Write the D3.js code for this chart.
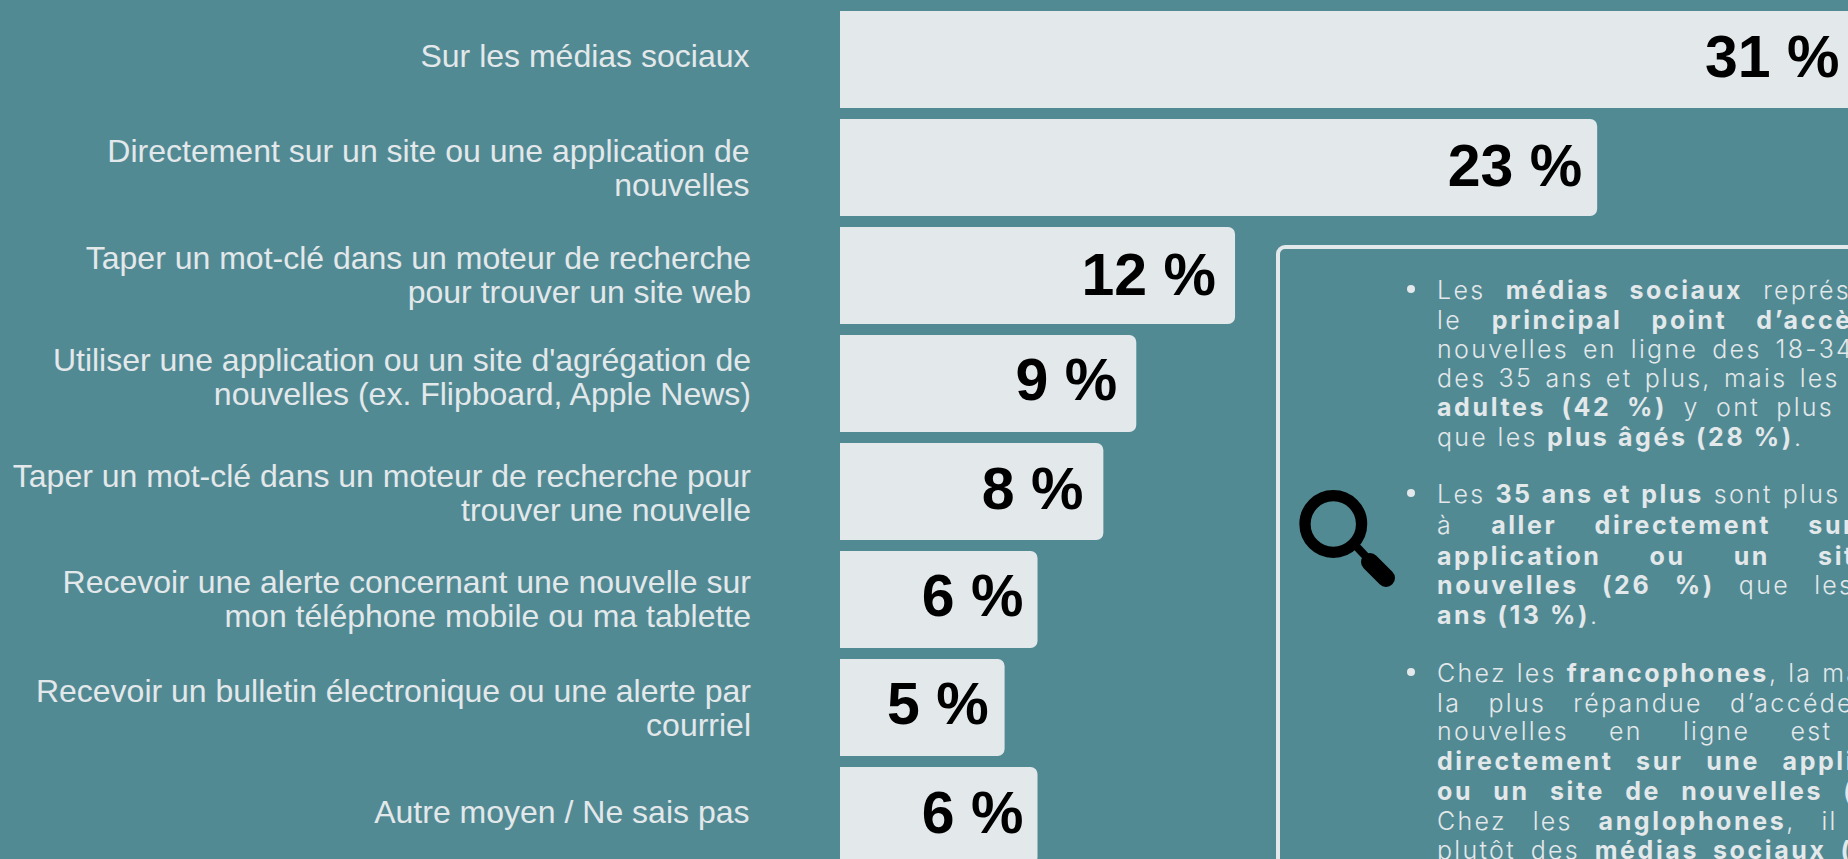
<!DOCTYPE html>
<html lang="fr"><head><meta charset="utf-8">
<script src="https://cdnjs.cloudflare.com/ajax/libs/d3/7.8.5/d3.min.js"></script>
<style>
html,body{margin:0;padding:0;width:1848px;height:859px;overflow:hidden;background:#528a94}
svg{display:block;position:absolute;left:0;top:0}
#panel{position:absolute;left:0;top:0;width:1848px;height:859px;overflow:hidden}
.ln{position:absolute;left:1437px;white-space:nowrap;color:#e3e8ea;font-family:Inter,"Noto Sans",sans-serif;font-size:25px;font-weight:300;letter-spacing:2.3px;line-height:30px;text-align:justify;text-align-last:justify}
.ln.last{text-align-last:left}
.ln b{font-weight:700;letter-spacing:2.6px}
</style></head><body>
<div id="panel"></div>
<script>
const categories = [
  ["Sur les médias sociaux"],
  ["Directement sur un site ou une application de","nouvelles"],
  ["Taper un mot-clé dans un moteur de recherche","pour trouver un site web"],
  ["Utiliser une application ou un site d'agrégation de","nouvelles (ex. Flipboard, Apple News)"],
  ["Taper un mot-clé dans un moteur de recherche pour","trouver une nouvelle"],
  ["Recevoir une alerte concernant une nouvelle sur","mon téléphone mobile ou ma tablette"],
  ["Recevoir un bulletin électronique ou une alerte par","courriel"],
  ["Autre moyen / Ne sais pas"]
];
const values = [31,23,12,9,8,6,5,6];
const para1 = ["Les <b>médias sociaux</b> représentent","le <b>principal point d’accès</b> aux","nouvelles en ligne des 18-34 ans et","des 35 ans et plus, mais les jeunes","<b>adultes (42 %)</b> y ont plus recours","que les <b>plus âgés (28 %)</b>."];
const para2 = ["Les <b>35 ans et plus</b> sont plus enclins","à <b>aller directement sur une</b>","<b>application ou un site de</b>","<b>nouvelles (26 %)</b> que les 18-34","<b>ans (13 %)</b>."];
const para3 = ["Chez les <b>francophones</b>, la manière","la plus répandue d’accéder aux","nouvelles en ligne est d’aller","<b>directement sur une application</b>","<b>ou un site de nouvelles (31 %)</b>.","Chez les <b>anglophones</b>, il s’agit","plutôt des <b>médias sociaux (35 %)</b>."];

// layout tweaks (not data)
const labelShift=[-3.5,1,0,-6,2.4,-0.5,1,-3.3];
const valuePad=[21,15,19,19,20,14,16,14];
const valueDy=[17.5,18.5,19.5,16.5,17,16.5,16.5,17.5];

const W=1848,H=859,ink="#e3e8ea";
const svg=d3.select("body").insert("svg","#panel").attr("width",W).attr("height",H);
const x=d3.scaleLinear().domain([0,31]).range([840,840+31*32.92]);
const y=d3.scaleBand().domain(d3.range(values.length)).range([11,864]).paddingInner(11/108).paddingOuter(0);

function barPath(v,i){
  const p=d3.path(),x0=x(0),x1=x(v),y0=y(i),y1=y0+y.bandwidth(),r=7;
  p.moveTo(x0,y0);p.lineTo(x1-r,y0);p.arcTo(x1,y0,x1,y0+r,r);
  p.lineTo(x1,y1-r);p.arcTo(x1,y1,x1-r,y1,r);p.lineTo(x0,y1);p.closePath();
  return p.toString();
}
svg.selectAll("path.bar").data(values).join("path").attr("class","bar").attr("d",barPath).attr("fill",ink);
svg.selectAll("text.val").data(values).join("text").attr("class","val")
  .attr("x",(d,i)=>x(d)-valuePad[i]).attr("y",(d,i)=>y(i)+y.bandwidth()/2+valueDy[i])
  .attr("text-anchor","end").attr("fill","#000")
  .attr("font-family","'Liberation Sans',Arial,sans-serif").attr("font-weight",700).attr("font-size",59)
  .text(d=>d+" %");

const lab=svg.selectAll("text.cat").data(categories).join("text").attr("class","cat")
  .attr("text-anchor","end").attr("fill",ink)
  .attr("font-family","'Liberation Sans',Arial,sans-serif").attr("font-size",32);
lab.each(function(lines,i){
  const ax=(i===0||i===1||i===7)?749.5:751;
  const cy=y(i)+y.bandwidth()/2+labelShift[i];
  const start=cy+10.5-(lines.length-1)*17;
  d3.select(this).selectAll("tspan").data(lines).join("tspan")
    .attr("x",ax).attr("y",(d,k)=>start+k*34).text(d=>d);
});

// info panel frame
svg.append("rect").attr("x",1278).attr("y",247).attr("width",700).attr("height",800).attr("rx",7)
  .attr("fill","none").attr("stroke",ink).attr("stroke-width",4);

// magnifier
const g=svg.append("g").attr("fill","none").attr("stroke","#000").attr("stroke-linecap","round");
g.append("circle").attr("cx",1333.3).attr("cy",524).attr("r",28.3).attr("stroke-width",11.3);
g.append("line").attr("x1",1356).attr("y1",546).attr("x2",1372).attr("y2",563).attr("stroke-width",8);
g.append("line").attr("x1",1370).attr("y1",562).attr("x2",1386).attr("y2",578).attr("stroke-width",18);

// bullets and paragraphs
const paras=[{lines:para1,base:[297,327,356,385,414,444],w:[501,511,520,506,518,520]},
             {lines:para2,base:[501,532,563,592,622],w:[512,510,520,520,520]},
             {lines:para3,base:[680,710,738,768,798,828,857],w:[495,504,520,510,520,500,516]}];
const panel=d3.select("#panel");
paras.forEach(P=>{
  svg.append("circle").attr("cx",1411).attr("cy",P.base[0]-8).attr("r",4).attr("fill",ink);
  P.lines.forEach((t,i)=>{
    const isLast=/\.$|\.<\/b>$/.test(t) && P!==paras[2];
    panel.append("div").attr("class","ln"+(isLast?" last":""))
      .style("top",(P.base[i]-22)+"px").style("width",P.w[i]+"px").html(t);
  });
});
</script>
</body></html>
